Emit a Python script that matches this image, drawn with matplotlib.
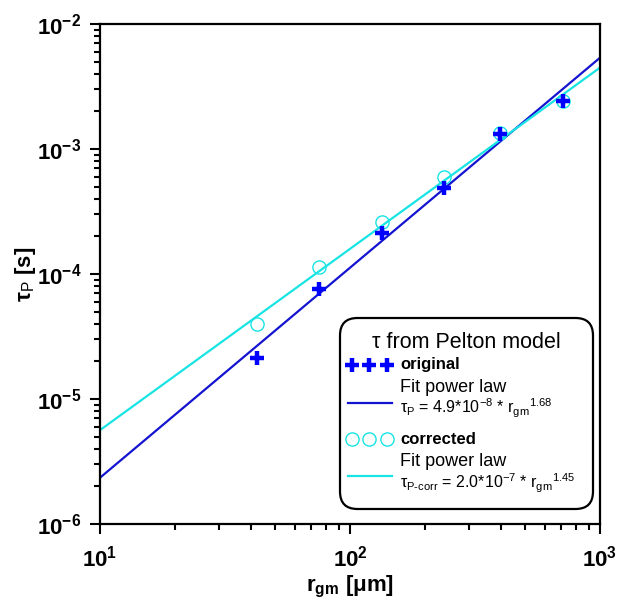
import numpy as np
import matplotlib
matplotlib.use("Agg")
import matplotlib.pyplot as plt
from matplotlib.patches import FancyBboxPatch
from matplotlib.ticker import LogLocator, FixedLocator, NullFormatter

plt.rcParams['font.family'] = ['Liberation Sans', 'DejaVu Sans']
plt.rcParams['mathtext.fontset'] = 'custom'
plt.rcParams['mathtext.rm'] = 'Liberation Sans'
plt.rcParams['mathtext.it'] = 'Liberation Sans:italic'
plt.rcParams['mathtext.bf'] = 'Liberation Sans:bold'

# data
r_gm = [42.5, 75.5, 134, 238, 398, 711]
tau_orig = [2.13e-5, 7.6e-5, 2.13e-4, 4.9e-4, 1.32e-3, 2.42e-3]
tau_corr = [3.98e-5, 1.14e-4, 2.6e-4, 5.97e-4, 1.34e-3, 2.42e-3]

# power law fits
fit_orig = (4.9e-8, 1.68)
fit_corr = (2.0e-7, 1.45)

blue = '#0000ff'
blue_line = '#1414d0'
cyan = '#18e4e4'

fig = plt.figure(figsize=(6.34, 6.07), dpi=100)
ax = fig.add_axes([100/634, 83/607, 500/634, 500/607])

xf = np.logspace(1, 3, 200)
ax.plot(xf, fit_orig[0]*xf**fit_orig[1], color=blue_line, lw=1.6, zorder=2)
ax.plot(xf, fit_corr[0]*xf**fit_corr[1], color=cyan, lw=1.6, zorder=2)
ax.plot(r_gm, tau_corr, ls='none', marker='o', ms=9.5, mfc='none', mec=cyan, mew=1.0, zorder=3)
ax.plot(r_gm, tau_orig, ls='none', marker='+', ms=10, mec=blue, mew=3.2, zorder=4)

ax.set_xscale('log')
ax.set_yscale('log')
ax.set_xlim(10, 1000)
ax.set_ylim(1e-6, 1e-2)

xt = [10, 100, 1000]
yt = [1e-6, 1e-5, 1e-4, 1e-3, 1e-2]
ax.xaxis.set_major_locator(FixedLocator(xt))
ax.yaxis.set_major_locator(FixedLocator(yt))
ax.set_xticklabels([r'$\mathbf{10^{%d}}$' % int(np.log10(v)) for v in xt])
ax.set_yticklabels([r'$\mathbf{10^{%d}}$' % int(round(np.log10(v))) for v in yt])
ax.xaxis.set_minor_locator(LogLocator(base=10, subs=np.arange(2, 10)))
ax.yaxis.set_minor_locator(LogLocator(base=10, subs=np.arange(2, 10)))
ax.xaxis.set_minor_formatter(NullFormatter())
ax.yaxis.set_minor_formatter(NullFormatter())

ax.tick_params(which='major', direction='out', length=7.5, width=1.5, labelsize=16, pad=6)
ax.tick_params(which='minor', direction='out', length=4.5, width=1.5)
ax.tick_params(axis='x', which='major', pad=8)
for s in ax.spines.values():
    s.set_linewidth(1.6)

ax.set_xlabel(r'r$_\mathbf{gm}$ [μm]', fontsize=16, fontweight='bold', labelpad=2)
ax.set_ylabel(r'τ$_\mathrm{P}$ [s]', fontsize=16, fontweight='bold')
ax.yaxis.set_label_coords(-0.125, 0.5)

# legend box drawn by hand so the formula lines can be smaller
tr = ax.transAxes
box = FancyBboxPatch((0.48, 0.03), 0.506, 0.382, boxstyle='round,pad=0,rounding_size=0.035',
                     transform=tr, fc='white', ec='black', lw=1.6, zorder=5)
ax.add_patch(box)

def fx(px):
    return (px - 100) / 500.0

def fy(py):
    return (524 - py) / 500.0

ax.text(fx(466), fy(342), 'τ from Pelton model', transform=tr, fontsize=15.5,
        ha='center', va='center', zorder=6)

hx = [fx(352), fx(369), fx(387)]
ax.plot(hx, [fy(365)]*3, transform=tr, ls='none', marker='+', ms=10, mec=blue, mew=3.2, zorder=6)
ax.text(fx(400), fy(365), 'original', transform=tr, fontsize=12, fontweight='bold',
        va='center', zorder=6)

ax.plot([fx(348), fx(392)], [fy(403)]*2, transform=tr, color=blue_line, lw=1.6, zorder=6)
ax.text(fx(400), fy(387), 'Fit power law', transform=tr, fontsize=13, va='center', zorder=6)
ax.text(fx(400), fy(408), r'τ$_\mathrm{P}$ = 4.9*10$^{-8}$ * r$_\mathrm{gm}$$^\mathrm{%.2f}$' % fit_orig[1],
        transform=tr, fontsize=11.5, va='center', zorder=6)

ax.plot(hx, [fy(439)]*3, transform=tr, ls='none', marker='o', ms=9.5, mfc='none', mec=cyan, mew=1.0, zorder=6)
ax.text(fx(400), fy(439), 'corrected', transform=tr, fontsize=12, fontweight='bold',
        va='center', zorder=6)

ax.plot([fx(348), fx(392)], [fy(476)]*2, transform=tr, color=cyan, lw=1.6, zorder=6)
ax.text(fx(400), fy(461), 'Fit power law', transform=tr, fontsize=13, va='center', zorder=6)
ax.text(fx(400), fy(483), r'τ$_\mathrm{P\text{-}corr}$ = 2.0*10$^{-7}$ * r$_\mathrm{gm}$$^\mathrm{%.2f}$' % fit_corr[1],
        transform=tr, fontsize=11.5, va='center', zorder=6)

fig.savefig('out.png', dpi=100)
